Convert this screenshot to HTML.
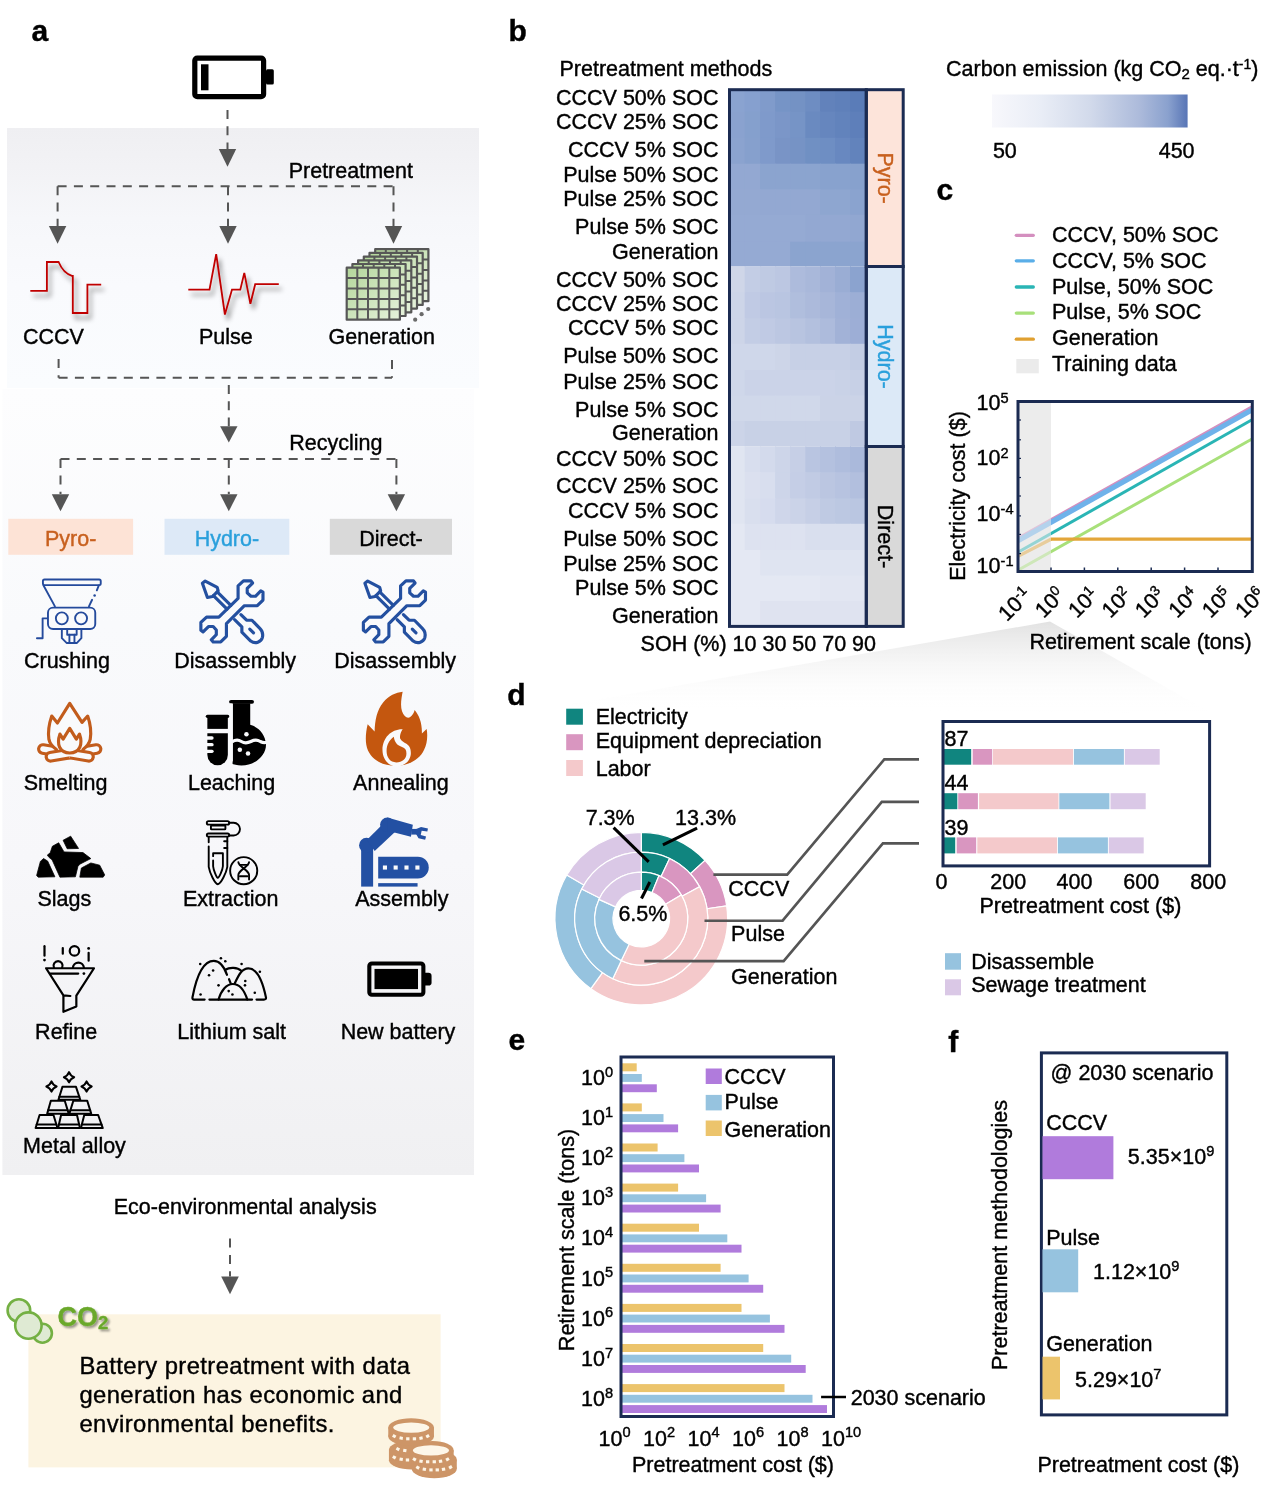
<!DOCTYPE html>
<html><head><meta charset="utf-8"><style>
html,body{margin:0;padding:0;background:#fff;}
svg{display:block;font-family:"Liberation Sans",sans-serif;will-change:transform;}
</style></head><body>
<svg width="1269" height="1487" viewBox="0 0 1269 1487">
<defs>
<linearGradient id="gpan1" x1="0" y1="0" x2="0" y2="1">
<stop offset="0" stop-color="#efeff2"/><stop offset="0.15" stop-color="#f2f2f5"/><stop offset="0.35" stop-color="#f6f7fa"/><stop offset="0.6" stop-color="#f9fafd"/><stop offset="1" stop-color="#fafcfe"/></linearGradient>
<linearGradient id="gpan2" x1="0" y1="0" x2="0" y2="1">
<stop offset="0" stop-color="#fdfdfe"/><stop offset="0.3" stop-color="#f9fafc"/><stop offset="0.6" stop-color="#f7f7fa"/><stop offset="1" stop-color="#f0f0f2"/></linearGradient>
<linearGradient id="gcbar" x1="0" y1="0" x2="1" y2="0">
<stop offset="0" stop-color="#f8f8fc"/><stop offset="0.25" stop-color="#e9edf6"/><stop offset="0.5" stop-color="#d2daeb"/><stop offset="0.75" stop-color="#adbbdb"/><stop offset="0.9" stop-color="#8aa1ce"/><stop offset="1" stop-color="#5875b6"/></linearGradient>
<linearGradient id="gzoom" x1="0" y1="0" x2="0" y2="1">
<stop offset="0" stop-color="#e2e2e2"/><stop offset="1" stop-color="#ffffff" stop-opacity="0"/></linearGradient>
<linearGradient id="ggrid" x1="0" y1="0" x2="1" y2="1">
<stop offset="0" stop-color="#b3d69a"/><stop offset="1" stop-color="#e6f2dc"/></linearGradient>
<filter id="shadow" x="-30%" y="-30%" width="160%" height="160%">
<feGaussianBlur in="SourceAlpha" stdDeviation="2.6"/><feOffset dx="2.5" dy="4.5" result="ob"/>
<feComponentTransfer><feFuncA type="linear" slope="0.5"/></feComponentTransfer>
<feMerge><feMergeNode/><feMergeNode in="SourceGraphic"/></feMerge></filter>
<filter id="tshadow" x="-20%" y="-30%" width="140%" height="160%">
<feGaussianBlur in="SourceAlpha" stdDeviation="1.3"/><feOffset dx="1.5" dy="1.5" result="ob"/>
<feComponentTransfer><feFuncA type="linear" slope="0.4"/></feComponentTransfer>
<feMerge><feMergeNode/><feMergeNode in="SourceGraphic"/></feMerge></filter>
</defs>

<rect x="7" y="128" width="472" height="260" fill="url(#gpan1)"/>
<rect x="2.4" y="389" width="471.6" height="786" fill="url(#gpan2)"/>
<text x="31.5" y="40.9" font-size="30" text-anchor="start" fill="#000" font-weight="bold"  stroke="#000" stroke-width="0.4">a</text>
<rect x="194.8" y="58.1" width="68.8" height="38.6" rx="2.5" fill="none" stroke="#000" stroke-width="5.2"/>
<rect x="266" y="69.3" width="7.8" height="15.3" rx="1.5" fill="#000"/>
<rect x="201" y="64.3" width="7.5" height="26" fill="#000"/>
<path d="M227.5,110.0 L227.5,149.0" fill="none" stroke="#555555" stroke-width="2" stroke-dasharray="9 7.3"/>
<polygon points="218.8,149.0 236.2,149.0 227.5,166.7" fill="#555555"/>
<text x="288.7" y="177.8" font-size="21.5" text-anchor="start" fill="#000" font-weight="normal"  stroke="#000" stroke-width="0.4">Pretreatment</text>
<path d="M57.6,186.2 L393.5,186.2" fill="none" stroke="#555555" stroke-width="2" stroke-dasharray="9 7.3"/>
<path d="M57.6,186.2 L57.6,226.0" fill="none" stroke="#555555" stroke-width="2" stroke-dasharray="9 7.3"/>
<path d="M393.5,186.2 L393.5,226.0" fill="none" stroke="#555555" stroke-width="2" stroke-dasharray="9 7.3"/>
<path d="M228.0,186.2 L228.0,226.0" fill="none" stroke="#555555" stroke-width="2" stroke-dasharray="9 7.3"/>
<polygon points="48.9,226.0 66.3,226.0 57.6,243.8" fill="#555555"/>
<polygon points="219.3,226.0 236.7,226.0 228.0,243.8" fill="#555555"/>
<polygon points="384.8,226.0 402.2,226.0 393.5,243.8" fill="#555555"/>
<g filter="url(#shadow)"><path d="M30.3,290.9 L46.9,290.9 L46.9,262 L58.6,262 C62,270 66,274 71.9,275.8 L72.8,275.8 L72.8,313 L87.4,313 L87.4,284.7 L101.2,284.7" fill="none" stroke="#c00000" stroke-width="1.8"/></g>
<g filter="url(#shadow)"><path d="M188.3,289.6 L209.5,289.6 L216.2,254.2 L224.9,314.5 L232,289.6 L240.3,289.6 L244.3,272.9 L250.4,303.8 L255.2,284.2 L278.8,284.2" fill="none" stroke="#c00000" stroke-width="1.8"/></g>
<g transform="translate(375.2,249.2)">
<rect x="0" y="0" width="53.2" height="52" fill="url(#ggrid)" stroke="#575757" stroke-width="2.2" stroke-linejoin="round"/>
<line x1="10.6" y1="0" x2="10.6" y2="52" stroke="#575757" stroke-width="2"/>
<line x1="0" y1="10.4" x2="53.2" y2="10.4" stroke="#575757" stroke-width="2"/>
<line x1="21.3" y1="0" x2="21.3" y2="52" stroke="#575757" stroke-width="2"/>
<line x1="0" y1="20.8" x2="53.2" y2="20.8" stroke="#575757" stroke-width="2"/>
<line x1="31.9" y1="0" x2="31.9" y2="52" stroke="#575757" stroke-width="2"/>
<line x1="0" y1="31.2" x2="53.2" y2="31.2" stroke="#575757" stroke-width="2"/>
<line x1="42.6" y1="0" x2="42.6" y2="52" stroke="#575757" stroke-width="2"/>
<line x1="0" y1="41.6" x2="53.2" y2="41.6" stroke="#575757" stroke-width="2"/>
</g>
<g transform="translate(369.5,252.9)">
<rect x="0" y="0" width="53.2" height="52" fill="url(#ggrid)" stroke="#575757" stroke-width="2.2" stroke-linejoin="round"/>
<line x1="10.6" y1="0" x2="10.6" y2="52" stroke="#575757" stroke-width="2"/>
<line x1="0" y1="10.4" x2="53.2" y2="10.4" stroke="#575757" stroke-width="2"/>
<line x1="21.3" y1="0" x2="21.3" y2="52" stroke="#575757" stroke-width="2"/>
<line x1="0" y1="20.8" x2="53.2" y2="20.8" stroke="#575757" stroke-width="2"/>
<line x1="31.9" y1="0" x2="31.9" y2="52" stroke="#575757" stroke-width="2"/>
<line x1="0" y1="31.2" x2="53.2" y2="31.2" stroke="#575757" stroke-width="2"/>
<line x1="42.6" y1="0" x2="42.6" y2="52" stroke="#575757" stroke-width="2"/>
<line x1="0" y1="41.6" x2="53.2" y2="41.6" stroke="#575757" stroke-width="2"/>
</g>
<g transform="translate(363.8,256.6)">
<rect x="0" y="0" width="53.2" height="52" fill="url(#ggrid)" stroke="#575757" stroke-width="2.2" stroke-linejoin="round"/>
<line x1="10.6" y1="0" x2="10.6" y2="52" stroke="#575757" stroke-width="2"/>
<line x1="0" y1="10.4" x2="53.2" y2="10.4" stroke="#575757" stroke-width="2"/>
<line x1="21.3" y1="0" x2="21.3" y2="52" stroke="#575757" stroke-width="2"/>
<line x1="0" y1="20.8" x2="53.2" y2="20.8" stroke="#575757" stroke-width="2"/>
<line x1="31.9" y1="0" x2="31.9" y2="52" stroke="#575757" stroke-width="2"/>
<line x1="0" y1="31.2" x2="53.2" y2="31.2" stroke="#575757" stroke-width="2"/>
<line x1="42.6" y1="0" x2="42.6" y2="52" stroke="#575757" stroke-width="2"/>
<line x1="0" y1="41.6" x2="53.2" y2="41.6" stroke="#575757" stroke-width="2"/>
</g>
<g transform="translate(358.1,260.3)">
<rect x="0" y="0" width="53.2" height="52" fill="url(#ggrid)" stroke="#575757" stroke-width="2.2" stroke-linejoin="round"/>
<line x1="10.6" y1="0" x2="10.6" y2="52" stroke="#575757" stroke-width="2"/>
<line x1="0" y1="10.4" x2="53.2" y2="10.4" stroke="#575757" stroke-width="2"/>
<line x1="21.3" y1="0" x2="21.3" y2="52" stroke="#575757" stroke-width="2"/>
<line x1="0" y1="20.8" x2="53.2" y2="20.8" stroke="#575757" stroke-width="2"/>
<line x1="31.9" y1="0" x2="31.9" y2="52" stroke="#575757" stroke-width="2"/>
<line x1="0" y1="31.2" x2="53.2" y2="31.2" stroke="#575757" stroke-width="2"/>
<line x1="42.6" y1="0" x2="42.6" y2="52" stroke="#575757" stroke-width="2"/>
<line x1="0" y1="41.6" x2="53.2" y2="41.6" stroke="#575757" stroke-width="2"/>
</g>
<g transform="translate(352.4,264.0)">
<rect x="0" y="0" width="53.2" height="52" fill="url(#ggrid)" stroke="#575757" stroke-width="2.2" stroke-linejoin="round"/>
<line x1="10.6" y1="0" x2="10.6" y2="52" stroke="#575757" stroke-width="2"/>
<line x1="0" y1="10.4" x2="53.2" y2="10.4" stroke="#575757" stroke-width="2"/>
<line x1="21.3" y1="0" x2="21.3" y2="52" stroke="#575757" stroke-width="2"/>
<line x1="0" y1="20.8" x2="53.2" y2="20.8" stroke="#575757" stroke-width="2"/>
<line x1="31.9" y1="0" x2="31.9" y2="52" stroke="#575757" stroke-width="2"/>
<line x1="0" y1="31.2" x2="53.2" y2="31.2" stroke="#575757" stroke-width="2"/>
<line x1="42.6" y1="0" x2="42.6" y2="52" stroke="#575757" stroke-width="2"/>
<line x1="0" y1="41.6" x2="53.2" y2="41.6" stroke="#575757" stroke-width="2"/>
</g>
<g transform="translate(346.7,267.7)">
<rect x="0" y="0" width="53.2" height="52" fill="url(#ggrid)" stroke="#575757" stroke-width="2.2" stroke-linejoin="round"/>
<line x1="10.6" y1="0" x2="10.6" y2="52" stroke="#575757" stroke-width="2"/>
<line x1="0" y1="10.4" x2="53.2" y2="10.4" stroke="#575757" stroke-width="2"/>
<line x1="21.3" y1="0" x2="21.3" y2="52" stroke="#575757" stroke-width="2"/>
<line x1="0" y1="20.8" x2="53.2" y2="20.8" stroke="#575757" stroke-width="2"/>
<line x1="31.9" y1="0" x2="31.9" y2="52" stroke="#575757" stroke-width="2"/>
<line x1="0" y1="31.2" x2="53.2" y2="31.2" stroke="#575757" stroke-width="2"/>
<line x1="42.6" y1="0" x2="42.6" y2="52" stroke="#575757" stroke-width="2"/>
<line x1="0" y1="41.6" x2="53.2" y2="41.6" stroke="#575757" stroke-width="2"/>
</g>
<circle cx="415.2" cy="319.7" r="2.1" fill="#6a6a6a"/>
<circle cx="421.6" cy="314.2" r="2.1" fill="#6a6a6a"/>
<circle cx="428.2" cy="309" r="2.1" fill="#6a6a6a"/>
<text x="23.0" y="343.9" font-size="21.5" text-anchor="start" fill="#000" font-weight="normal"  stroke="#000" stroke-width="0.4">CCCV</text>
<text x="198.9" y="343.8" font-size="21.5" text-anchor="start" fill="#000" font-weight="normal"  stroke="#000" stroke-width="0.4">Pulse</text>
<text x="328.5" y="343.8" font-size="21.5" text-anchor="start" fill="#000" font-weight="normal"  stroke="#000" stroke-width="0.4">Generation</text>
<path d="M58.6,377.8 L392.0,377.8" fill="none" stroke="#555555" stroke-width="2" stroke-dasharray="9 7.3"/>
<path d="M58.6,359.0 L58.6,377.8" fill="none" stroke="#555555" stroke-width="2" stroke-dasharray="9 7.3"/>
<path d="M392.0,359.9 L392.0,377.8" fill="none" stroke="#555555" stroke-width="2" stroke-dasharray="9 7.3"/>
<path d="M228.8,385.0 L228.8,426.2" fill="none" stroke="#555555" stroke-width="2" stroke-dasharray="9 7.3"/>
<polygon points="220.1,426.2 237.5,426.2 228.8,442.5" fill="#555555"/>
<text x="289.3" y="450.0" font-size="21.5" text-anchor="start" fill="#000" font-weight="normal"  stroke="#000" stroke-width="0.4">Recycling</text>
<path d="M60.5,459.1 L396.4,459.1" fill="none" stroke="#555555" stroke-width="2" stroke-dasharray="9 7.3"/>
<path d="M60.5,459.1 L60.5,494.0" fill="none" stroke="#555555" stroke-width="2" stroke-dasharray="9 7.3"/>
<path d="M396.4,459.1 L396.4,494.0" fill="none" stroke="#555555" stroke-width="2" stroke-dasharray="9 7.3"/>
<path d="M228.8,459.1 L228.8,494.0" fill="none" stroke="#555555" stroke-width="2" stroke-dasharray="9 7.3"/>
<polygon points="51.8,494.3 69.2,494.3 60.5,511.3" fill="#555555"/>
<polygon points="220.1,494.3 237.5,494.3 228.8,511.3" fill="#555555"/>
<polygon points="387.7,494.3 405.1,494.3 396.4,511.3" fill="#555555"/>
<rect x="8.3" y="518.8" width="124.8" height="36" fill="#fde3d6"/>
<rect x="164.5" y="518.8" width="124.8" height="36" fill="#dde9f7"/>
<rect x="329.8" y="518.8" width="122.2" height="36" fill="#d9d9d9"/>
<text x="70.7" y="546.0" font-size="21.5" text-anchor="middle" fill="#c8601e" font-weight="normal"  stroke="#c8601e" stroke-width="0.4">Pyro-</text>
<text x="226.9" y="546.0" font-size="21.5" text-anchor="middle" fill="#2aa0dc" font-weight="normal"  stroke="#2aa0dc" stroke-width="0.4">Hydro-</text>
<text x="390.9" y="546.0" font-size="21.5" text-anchor="middle" fill="#000" font-weight="normal"  stroke="#000" stroke-width="0.4">Direct-</text>
<text x="67.0" y="668.2" font-size="21.5" text-anchor="middle" fill="#000" font-weight="normal"  stroke="#000" stroke-width="0.4">Crushing</text>
<text x="235.2" y="668.2" font-size="21.5" text-anchor="middle" fill="#000" font-weight="normal"  stroke="#000" stroke-width="0.4">Disassembly</text>
<text x="395.2" y="668.2" font-size="21.5" text-anchor="middle" fill="#000" font-weight="normal"  stroke="#000" stroke-width="0.4">Disassembly</text>
<text x="65.6" y="790.2" font-size="21.5" text-anchor="middle" fill="#000" font-weight="normal"  stroke="#000" stroke-width="0.4">Smelting</text>
<text x="231.6" y="790.2" font-size="21.5" text-anchor="middle" fill="#000" font-weight="normal"  stroke="#000" stroke-width="0.4">Leaching</text>
<text x="400.9" y="790.2" font-size="21.5" text-anchor="middle" fill="#000" font-weight="normal"  stroke="#000" stroke-width="0.4">Annealing</text>
<text x="64.3" y="905.6" font-size="21.5" text-anchor="middle" fill="#000" font-weight="normal"  stroke="#000" stroke-width="0.4">Slags</text>
<text x="230.7" y="906.3" font-size="21.5" text-anchor="middle" fill="#000" font-weight="normal"  stroke="#000" stroke-width="0.4">Extraction</text>
<text x="401.8" y="905.6" font-size="21.5" text-anchor="middle" fill="#000" font-weight="normal"  stroke="#000" stroke-width="0.4">Assembly</text>
<text x="66.2" y="1038.9" font-size="21.5" text-anchor="middle" fill="#000" font-weight="normal"  stroke="#000" stroke-width="0.4">Refine</text>
<text x="231.7" y="1038.9" font-size="21.5" text-anchor="middle" fill="#000" font-weight="normal"  stroke="#000" stroke-width="0.4">Lithium salt</text>
<text x="398.0" y="1038.9" font-size="21.5" text-anchor="middle" fill="#000" font-weight="normal"  stroke="#000" stroke-width="0.4">New battery</text>
<text x="74.5" y="1153.1" font-size="21.5" text-anchor="middle" fill="#000" font-weight="normal"  stroke="#000" stroke-width="0.4">Metal alloy</text>
<g transform="translate(30,572) scale(0.06305)"><g fill="none" stroke="#244a9c" stroke-width="30" stroke-linecap="round" stroke-linejoin="round">
<rect x="205" y="118" width="917" height="90" rx="25"/>
<path d="M215,215 L395,545"/>
<path d="M1090,215 L1060,290"/><path d="M985,440 L935,545"/>
<rect x="285" y="565" width="750" height="340" rx="80"/>
<circle cx="505" cy="735" r="95"/><circle cx="810" cy="735" r="95"/>
<path d="M270,735 L200,735 L200,1050 L110,1050"/>
<path d="M505,905 L505,1050 L580,1125 L745,1125 L815,1050 L815,905"/>
<path d="M590,905 L590,995 L740,995 L740,905"/>
<path d="M625,995 L625,1120"/><path d="M705,995 L705,1120"/>
</g><circle cx="1025" cy="372" r="20" fill="#244a9c"/></g>
<g transform="translate(193,572) scale(0.06305)"><g fill="none" stroke="#2450a0" stroke-width="50" stroke-linejoin="round" stroke-linecap="round">
<path d="M410,715 L715,420 L715,220 L800,140 L920,140 L945,175 L860,260 L860,330 L920,385 L990,385 L1075,300 L1110,320 L1110,445 L1020,535 L815,535 L530,820 L530,1020 L440,1110 L320,1110 L290,1075 L370,995 L370,920 L320,865 L245,865 L160,950 L125,925 L125,800 L215,715 Z"/>
<path d="M149,179 L194,144 L384,244 L399,299 L309,389 L229,404 Z"/>
<path d="M384,314 L600,530"/><path d="M324,374 L540,590"/>
<path d="M660,755 L775,870 L775,955 L915,1095 C990,1150 1080,1110 1100,1040 C1115,980 1095,930 1060,895 L935,765 L850,765 L760,675"/>
<path d="M900,905 L960,965"/>
</g></g>
<g transform="translate(355.5,572) scale(0.06305)"><g fill="none" stroke="#2450a0" stroke-width="50" stroke-linejoin="round" stroke-linecap="round">
<path d="M410,715 L715,420 L715,220 L800,140 L920,140 L945,175 L860,260 L860,330 L920,385 L990,385 L1075,300 L1110,320 L1110,445 L1020,535 L815,535 L530,820 L530,1020 L440,1110 L320,1110 L290,1075 L370,995 L370,920 L320,865 L245,865 L160,950 L125,925 L125,800 L215,715 Z"/>
<path d="M149,179 L194,144 L384,244 L399,299 L309,389 L229,404 Z"/>
<path d="M384,314 L600,530"/><path d="M324,374 L540,590"/>
<path d="M660,755 L775,870 L775,955 L915,1095 C990,1150 1080,1110 1100,1040 C1115,980 1095,930 1060,895 L935,765 L850,765 L760,675"/>
<path d="M900,905 L960,965"/>
</g></g>
<g transform="translate(30,694) scale(0.06305)"><clipPath id="smL"><rect x="0" y="0" width="630" height="1300"/></clipPath><clipPath id="smR"><rect x="630" y="0" width="700" height="1300"/></clipPath>
<g fill="#f9fafc" stroke="#c25c1c" stroke-width="50" stroke-linejoin="round">
<g clip-path="url(#smL)"><rect x="132" y="866" width="876" height="136" rx="68" transform="rotate(9.56 570 934)"/><rect x="252" y="866" width="876" height="136" rx="68" transform="rotate(170.44 690 934)"/></g><g clip-path="url(#smR)"><rect x="252" y="866" width="876" height="136" rx="68" transform="rotate(170.44 690 934)"/><rect x="132" y="866" width="876" height="136" rx="68" transform="rotate(9.56 570 934)"/></g></g>
<g fill="#f9fafc" stroke="#c25c1c" stroke-width="50" stroke-linejoin="round" stroke-linecap="round">
<path d="M420,880 C360,840 315,790 300,720 C285,620 300,480 345,350 L435,460 L630,150 L825,450 L915,350 C960,480 975,600 955,720 C940,790 895,840 840,880" />
<path d="M630,545 L735,715 L785,635 C815,720 815,790 790,845 C760,905 700,935 630,935 C560,935 500,905 470,845 C445,790 445,720 475,635 L525,715 Z"/>
</g></g>
<g transform="translate(196,692) scale(0.06305)"><g fill="#000">
<rect x="155" y="360" width="375" height="52" rx="26"/>
<rect x="180" y="400" width="325" height="185"/>
<path d="M180,655 L505,655 L505,1000 A162,162 0 0 1 180,1000 Z"/>
<rect x="525" y="125" width="395" height="62" rx="31"/>
<path d="M585,180 L860,180 L860,520 C1000,560 1100,680 1110,830 C1115,1000 950,1165 720,1165 C650,1165 600,1150 555,1135 L585,1090 Z"/>
</g>
<g fill="#f9fafc">
<rect x="150" y="703" width="130" height="55" rx="27"/><rect x="150" y="810" width="130" height="52" rx="26"/><rect x="150" y="915" width="130" height="52" rx="26"/>
<circle cx="800" cy="670" r="36"/><circle cx="695" cy="915" r="36"/><circle cx="825" cy="975" r="36"/>
</g>
<path d="M570,790 C620,760 680,760 720,785 C760,810 820,810 870,785 C920,760 980,760 1020,785 C1060,805 1100,805 1130,795" fill="none" stroke="#f9fafc" stroke-width="50"/>
<rect x="530" y="180" width="50" height="1000" fill="#f9fafc"/></g>
<g transform="translate(356,688) scale(0.06305)"><path d="M740,60 C720,160 700,280 730,370 C760,460 820,490 860,460 C900,430 920,390 930,350 C1000,430 1050,560 1045,720 L1120,650 C1140,750 1130,880 1080,980 C1010,1130 850,1230 630,1235 C420,1235 260,1140 190,990 C140,880 150,720 185,575 L295,690 C300,520 330,350 430,230 C520,120 630,75 740,60 Z" fill="#c4570f"/>
<path d="M740,655 C560,650 420,790 420,985 C420,1140 530,1245 640,1245 C770,1245 870,1150 870,1030 C870,950 840,910 800,885 C760,860 720,840 700,800 C690,760 710,700 740,655 Z" fill="#f9fafc"/>
<path d="M600,775 C610,860 660,920 730,935 C780,950 800,980 800,1040 C800,1130 730,1180 640,1180 C540,1180 485,1100 485,1000 C485,900 530,830 600,775 Z" fill="#c4570f"/></g>
<g transform="translate(30,810) scale(0.06305)"><g fill="#000" stroke="#000" stroke-width="12" stroke-linejoin="round">
<path d="M105,1040 L165,815 L215,770 L280,810 L395,1060 L130,1065 Z"/>
<path d="M275,715 L320,680 L355,575 L455,520 L540,665 L840,675 L965,770 L790,860 L760,895 L720,1060 L475,1065 L350,790 L300,750 Z"/>
<path d="M525,480 L645,415 L770,610 L590,615 Z"/>
<path d="M790,1065 L815,920 L965,840 L1105,875 L1185,1030 L1160,1065 Z"/>
</g></g>
<g transform="translate(192,812) scale(0.06305)"><g fill="none" stroke="#000" stroke-width="30" stroke-linecap="round" stroke-linejoin="round">
<rect x="235" y="145" width="355" height="55" rx="27"/>
<rect x="300" y="215" width="230" height="60" rx="10"/>
<rect x="235" y="340" width="355" height="50" rx="25"/>
<path d="M590,170 L660,170 A100,100 0 0 1 660,372 L590,372"/>
<path d="M265,405 L265,480"/><path d="M265,545 L265,870 C280,960 360,1140 410,1145 C460,1140 545,960 560,870 L560,405"/>
<path d="M510,465 L560,465"/><path d="M510,570 L560,570"/>
<path d="M335,700 L335,655 L490,655 L490,860 C485,920 430,1040 410,1045 C390,1040 340,920 335,860 L335,770"/>
<circle cx="820" cy="930" r="215"/>
<path d="M735,795 C735,870 905,920 905,1000 L905,1070"/><path d="M905,795 C905,870 735,920 735,1000 L735,1070"/>
<path d="M760,838 L880,838"/><path d="M760,1020 L880,1020"/>
</g></g>
<g transform="translate(352,810) scale(0.06305)"><g fill="#2350a3">
<rect x="145" y="600" width="190" height="615"/>
<circle cx="230" cy="560" r="118"/>
<path d="M235,475 L470,240 L690,340 L360,650 Z"/>
<circle cx="560" cy="235" r="115"/>
<path d="M560,120 L965,235 L935,425 L640,350 L560,350 Z"/>
<path d="M940,300 L1040,300 L1040,390 L940,390 Z"/>
<path d="M1000,310 L1095,270 L1205,295 L1195,340 L1105,330 L1090,395 L1175,420 L1160,470 L1055,450 L1020,390 Z"/>
<path d="M415,740 L1045,740 A172,172 0 0 1 1045,1085 L415,1085 Z"/>
<rect x="415" y="1160" width="625" height="55"/>
</g>
<g fill="#f9fafc"><rect x="490" y="880" width="65" height="65"/><rect x="660" y="880" width="65" height="65"/><rect x="832" y="880" width="65" height="65"/><rect x="1005" y="880" width="65" height="65"/></g></g>
<g transform="translate(30,938) scale(0.06305)"><g fill="none" stroke="#000" stroke-width="35" stroke-linecap="round" stroke-linejoin="round">
<path d="M380,470 A72,72 0 1 1 510,470"/>
<path d="M680,470 A88,88 0 0 1 855,470"/>
<path d="M530,910 L255,480 L1015,480 L735,915 L735,1085 L530,1170 L530,910 L640,920"/>
<path d="M320,565 L765,565"/>
<circle cx="705" cy="205" r="75"/>
<path d="M230,130 L230,280"/><path d="M520,160 L520,250"/><path d="M930,235 L930,360"/>
</g>
<g fill="#000"><circle cx="855" cy="565" r="22"/><circle cx="230" cy="350" r="22"/><circle cx="930" cy="165" r="22"/></g></g>
<g transform="translate(186,944) scale(0.06777)"><g fill="none" stroke="#000" stroke-width="32" stroke-linecap="round" stroke-linejoin="round">
<path d="M275,820 L120,820 Q90,820 95,790 C150,500 250,250 410,250 C500,250 560,330 605,455"/>
<path d="M635,520 L660,580"/>
<path d="M580,380 C640,340 760,340 815,395"/>
<path d="M720,580 C780,450 830,360 920,360 C1040,360 1120,500 1180,790 Q1185,820 1150,820 L1040,820"/>
<path d="M480,820 C520,680 600,590 690,590 C780,590 860,680 905,820"/>
<path d="M345,820 L975,820"/>
</g><g fill="#000"><circle cx="210" cy="295" r="19"/><circle cx="515" cy="210" r="19"/><circle cx="580" cy="255" r="19"/><circle cx="820" cy="295" r="19"/><circle cx="1090" cy="410" r="19"/><circle cx="400" cy="390" r="19"/><circle cx="340" cy="460" r="19"/><circle cx="480" cy="610" r="19"/><circle cx="875" cy="545" r="19"/><circle cx="870" cy="610" r="19"/><circle cx="1015" cy="720" r="19"/><circle cx="215" cy="745" r="19"/><circle cx="630" cy="695" r="19"/><circle cx="685" cy="745" r="19"/></g></g>
<g transform="translate(360,950) scale(0.06305)"><rect x="148" y="213" width="857" height="497" rx="40" fill="none" stroke="#000" stroke-width="65"/>
<rect x="230" y="300" width="690" height="320" fill="#000"/>
<path d="M1000,360 L1085,360 Q1135,360 1135,410 L1135,515 Q1135,565 1085,565 L1000,565 Z" fill="#000"/></g>
<g transform="translate(28,1064) scale(0.06619)"><g fill="none" stroke="#000" stroke-width="30" stroke-linecap="round" stroke-linejoin="round"><path d="M520,345 L725,345 L790,540 L460,540 Z"/><path d="M474,495 L775,495"/><path d="M345,555 L555,555 L615,750 L290,750 Z"/><path d="M304,700 L600,700"/><path d="M685,555 L895,555 L955,750 L625,750 Z"/><path d="M640,700 L940,700"/><path d="M175,770 L385,770 L445,968 L115,968 Z"/><path d="M131,915 L429,915"/><path d="M500,770 L740,770 L785,968 L455,968 Z"/><path d="M467,915 L773,915"/><path d="M850,770 L1060,770 L1130,968 L800,968 Z"/><path d="M813,915 L1111,915"/>
<path d="M620,122 Q641.84,178.16 698,200 Q641.84,221.84 620,278 Q598.16,221.84 542,200 Q598.16,178.16 620,122 Z"/><path d="M355,262 Q376.84000000000003,318.15999999999997 433,340 Q376.84000000000003,361.84000000000003 355,418 Q333.15999999999997,361.84000000000003 277,340 Q333.15999999999997,318.15999999999997 355,262 Z"/><path d="M885,262 Q906.84,318.15999999999997 963,340 Q906.84,361.84000000000003 885,418 Q863.16,361.84000000000003 807,340 Q863.16,318.15999999999997 885,262 Z"/></g></g>
<text x="245.2" y="1214.0" font-size="21.5" text-anchor="middle" fill="#000" font-weight="normal"  stroke="#000" stroke-width="0.4">Eco-environmental analysis</text>
<path d="M230.0,1238.6 L230.0,1276.4" fill="none" stroke="#555555" stroke-width="2" stroke-dasharray="9 7.3"/>
<polygon points="221.2,1276.4 238.8,1276.4 230.0,1294.2" fill="#555555"/>
<rect x="28.4" y="1314.3" width="412.2" height="153.1" fill="#fcf4e1"/>
<circle cx="18.9" cy="1310.5" r="11.3" fill="#dfead3" stroke="#74b043" stroke-width="2.6"/>
<circle cx="42.4" cy="1333.2" r="9.5" fill="#dfead3" stroke="#74b043" stroke-width="2.6"/>
<circle cx="28.4" cy="1325.6" r="13.2" fill="#dfead3" stroke="#74b043" stroke-width="2.6"/>
<text x="57.5" y="1326.4" font-size="27" font-weight="bold" fill="#6aa82c" filter="url(#tshadow)" stroke="#6aa82c" stroke-width="0.4">CO<tspan font-size="18.5" dy="2.4">2</tspan></text>
<text x="79.4" y="1374.1" font-size="23.8" text-anchor="start" fill="#000" font-weight="normal" letter-spacing="0.41" stroke="#000" stroke-width="0.4">Battery pretreatment with data</text>
<text x="79.4" y="1402.5" font-size="23.8" text-anchor="start" fill="#000" font-weight="normal" letter-spacing="0.41" stroke="#000" stroke-width="0.4">generation has economic and</text>
<text x="79.4" y="1432.3" font-size="23.8" text-anchor="start" fill="#000" font-weight="normal" letter-spacing="0.41" stroke="#000" stroke-width="0.4">environmental benefits.</text>
<g transform="translate(380,1410) scale(0.06619)"><g fill="#cd9567"><ellipse cx="480" cy="760" rx="345" ry="140"/><rect x="135" y="600" width="690" height="160"/><ellipse cx="480" cy="600" rx="345" ry="140"/><ellipse cx="470" cy="400" rx="345" ry="140"/><rect x="125" y="265" width="690" height="135"/><ellipse cx="470" cy="265" rx="345" ry="140"/></g>
<g fill="#fdf6e8"><rect x="245" y="567" width="50" height="46" transform="rotate(30 270 590)"/><rect x="350" y="589" width="50" height="46" transform="rotate(10 375 612)"/><rect x="190" y="692" width="50" height="46" transform="rotate(30 215 715)"/><rect x="295" y="722" width="50" height="46" transform="rotate(10 320 745)"/><rect x="390" y="732" width="50" height="46" transform="rotate(0 415 755)"/></g>
<g fill="#fdf6e8"><ellipse cx="472" cy="265" rx="272" ry="78"/><rect x="190" y="372" width="50" height="46" transform="rotate(30 215 395)"/><rect x="295" y="402" width="50" height="46" transform="rotate(10 320 425)"/><rect x="395" y="412" width="50" height="46" transform="rotate(0 420 435)"/><rect x="495" y="412" width="50" height="46" transform="rotate(0 520 435)"/><rect x="595" y="402" width="50" height="46" transform="rotate(-10 620 425)"/><rect x="695" y="372" width="50" height="46" transform="rotate(-30 720 395)"/></g>
<g fill="#cd9567"><ellipse cx="820" cy="890" rx="340" ry="140"/><rect x="480" y="750" width="680" height="140"/><ellipse cx="820" cy="750" rx="340" ry="140"/><ellipse cx="795" cy="750" rx="318" ry="140"/><rect x="477" y="610" width="636" height="140"/><ellipse cx="795" cy="610" rx="318" ry="140"/></g>
<g fill="#fdf6e8"><ellipse cx="770" cy="610" rx="272" ry="78"/><rect x="495" y="722" width="50" height="46" transform="rotate(30 520 745)"/><rect x="595" y="752" width="50" height="46" transform="rotate(10 620 775)"/><rect x="695" y="759" width="50" height="46" transform="rotate(0 720 782)"/><rect x="795" y="759" width="50" height="46" transform="rotate(0 820 782)"/><rect x="890" y="752" width="50" height="46" transform="rotate(-10 915 775)"/><rect x="995" y="722" width="50" height="46" transform="rotate(-30 1020 745)"/><rect x="545" y="847" width="50" height="46" transform="rotate(30 570 870)"/><rect x="645" y="872" width="50" height="46" transform="rotate(10 670 895)"/><rect x="745" y="882" width="50" height="46" transform="rotate(0 770 905)"/><rect x="840" y="882" width="50" height="46" transform="rotate(0 865 905)"/><rect x="935" y="872" width="50" height="46" transform="rotate(-10 960 895)"/><rect x="1040" y="842" width="50" height="46" transform="rotate(-30 1065 865)"/></g></g>
<polygon points="1050,621.6 1213,714 560,706" fill="url(#gzoom)"/>
<text x="508.6" y="40.9" font-size="30" text-anchor="start" fill="#000" font-weight="bold"  stroke="#000" stroke-width="0.4">b</text>
<text x="559.5" y="76.2" font-size="21.5" text-anchor="start" fill="#000" font-weight="normal"  stroke="#000" stroke-width="0.4">Pretreatment methods</text>
<text x="718.5" y="104.6" font-size="21.5" text-anchor="end" fill="#000" font-weight="normal"  stroke="#000" stroke-width="0.4">CCCV 50% SOC</text>
<text x="718.5" y="129.1" font-size="21.5" text-anchor="end" fill="#000" font-weight="normal"  stroke="#000" stroke-width="0.4">CCCV 25% SOC</text>
<text x="718.5" y="157.4" font-size="21.5" text-anchor="end" fill="#000" font-weight="normal"  stroke="#000" stroke-width="0.4">CCCV 5% SOC</text>
<text x="718.5" y="181.8" font-size="21.5" text-anchor="end" fill="#000" font-weight="normal"  stroke="#000" stroke-width="0.4">Pulse 50% SOC</text>
<text x="718.5" y="206.2" font-size="21.5" text-anchor="end" fill="#000" font-weight="normal"  stroke="#000" stroke-width="0.4">Pulse 25% SOC</text>
<text x="718.5" y="233.9" font-size="21.5" text-anchor="end" fill="#000" font-weight="normal"  stroke="#000" stroke-width="0.4">Pulse 5% SOC</text>
<text x="718.5" y="258.6" font-size="21.5" text-anchor="end" fill="#000" font-weight="normal"  stroke="#000" stroke-width="0.4">Generation</text>
<text x="718.5" y="287.0" font-size="21.5" text-anchor="end" fill="#000" font-weight="normal"  stroke="#000" stroke-width="0.4">CCCV 50% SOC</text>
<text x="718.5" y="311.4" font-size="21.5" text-anchor="end" fill="#000" font-weight="normal"  stroke="#000" stroke-width="0.4">CCCV 25% SOC</text>
<text x="718.5" y="334.9" font-size="21.5" text-anchor="end" fill="#000" font-weight="normal"  stroke="#000" stroke-width="0.4">CCCV 5% SOC</text>
<text x="718.5" y="363.3" font-size="21.5" text-anchor="end" fill="#000" font-weight="normal"  stroke="#000" stroke-width="0.4">Pulse 50% SOC</text>
<text x="718.5" y="388.5" font-size="21.5" text-anchor="end" fill="#000" font-weight="normal"  stroke="#000" stroke-width="0.4">Pulse 25% SOC</text>
<text x="718.5" y="416.5" font-size="21.5" text-anchor="end" fill="#000" font-weight="normal"  stroke="#000" stroke-width="0.4">Pulse 5% SOC</text>
<text x="718.5" y="440.4" font-size="21.5" text-anchor="end" fill="#000" font-weight="normal"  stroke="#000" stroke-width="0.4">Generation</text>
<text x="718.5" y="465.5" font-size="21.5" text-anchor="end" fill="#000" font-weight="normal"  stroke="#000" stroke-width="0.4">CCCV 50% SOC</text>
<text x="718.5" y="493.2" font-size="21.5" text-anchor="end" fill="#000" font-weight="normal"  stroke="#000" stroke-width="0.4">CCCV 25% SOC</text>
<text x="718.5" y="517.9" font-size="21.5" text-anchor="end" fill="#000" font-weight="normal"  stroke="#000" stroke-width="0.4">CCCV 5% SOC</text>
<text x="718.5" y="546.3" font-size="21.5" text-anchor="end" fill="#000" font-weight="normal"  stroke="#000" stroke-width="0.4">Pulse 50% SOC</text>
<text x="718.5" y="570.6" font-size="21.5" text-anchor="end" fill="#000" font-weight="normal"  stroke="#000" stroke-width="0.4">Pulse 25% SOC</text>
<text x="718.5" y="594.5" font-size="21.5" text-anchor="end" fill="#000" font-weight="normal"  stroke="#000" stroke-width="0.4">Pulse 5% SOC</text>
<text x="718.5" y="623.0" font-size="21.5" text-anchor="end" fill="#000" font-weight="normal"  stroke="#000" stroke-width="0.4">Generation</text>
<rect x="729.50" y="89.70" width="16.20" height="22.90" fill="#8aa3d0"/>
<rect x="744.70" y="89.70" width="16.40" height="22.90" fill="#86a0cf"/>
<rect x="760.10" y="89.70" width="16.00" height="22.90" fill="#809bcb"/>
<rect x="775.10" y="89.70" width="16.00" height="22.90" fill="#7694c6"/>
<rect x="790.10" y="89.70" width="16.20" height="22.90" fill="#7492c4"/>
<rect x="805.30" y="89.70" width="15.70" height="22.90" fill="#6e8dc2"/>
<rect x="820.00" y="89.70" width="16.00" height="22.90" fill="#6282bb"/>
<rect x="835.00" y="89.70" width="16.00" height="22.90" fill="#5f80ba"/>
<rect x="850.00" y="89.70" width="16.30" height="22.90" fill="#5a7cb8"/>
<rect x="729.50" y="111.60" width="16.20" height="27.20" fill="#8aa2cf"/>
<rect x="744.70" y="111.60" width="16.40" height="27.20" fill="#85a0cd"/>
<rect x="760.10" y="111.60" width="16.00" height="27.20" fill="#7f9acb"/>
<rect x="775.10" y="111.60" width="16.00" height="27.20" fill="#7b96c8"/>
<rect x="790.10" y="111.60" width="16.20" height="27.20" fill="#7694c6"/>
<rect x="805.30" y="111.60" width="15.70" height="27.20" fill="#6a8ac0"/>
<rect x="820.00" y="111.60" width="16.00" height="27.20" fill="#6686be"/>
<rect x="835.00" y="111.60" width="16.00" height="27.20" fill="#6283bc"/>
<rect x="850.00" y="111.60" width="16.30" height="27.20" fill="#5e7fba"/>
<rect x="729.50" y="137.80" width="16.20" height="26.90" fill="#8ba3cf"/>
<rect x="744.70" y="137.80" width="16.40" height="26.90" fill="#86a0cd"/>
<rect x="760.10" y="137.80" width="16.00" height="26.90" fill="#7f9acb"/>
<rect x="775.10" y="137.80" width="16.00" height="26.90" fill="#7994c6"/>
<rect x="790.10" y="137.80" width="16.20" height="26.90" fill="#7693c5"/>
<rect x="805.30" y="137.80" width="15.70" height="26.90" fill="#7090c3"/>
<rect x="820.00" y="137.80" width="16.00" height="26.90" fill="#6e8ec3"/>
<rect x="835.00" y="137.80" width="16.00" height="26.90" fill="#6888c0"/>
<rect x="850.00" y="137.80" width="16.30" height="26.90" fill="#6283bc"/>
<rect x="729.50" y="163.70" width="16.20" height="26.60" fill="#93a8d2"/>
<rect x="744.70" y="163.70" width="16.40" height="26.60" fill="#93a8d2"/>
<rect x="760.10" y="163.70" width="16.00" height="26.60" fill="#8ba4cf"/>
<rect x="775.10" y="163.70" width="16.00" height="26.60" fill="#8ba4cf"/>
<rect x="790.10" y="163.70" width="16.20" height="26.60" fill="#8ba4cf"/>
<rect x="805.30" y="163.70" width="15.70" height="26.60" fill="#8ba4cf"/>
<rect x="820.00" y="163.70" width="16.00" height="26.60" fill="#88a2ce"/>
<rect x="835.00" y="163.70" width="16.00" height="26.60" fill="#88a2ce"/>
<rect x="850.00" y="163.70" width="16.30" height="26.60" fill="#87a1cd"/>
<rect x="729.50" y="189.30" width="16.20" height="26.40" fill="#94a9d2"/>
<rect x="744.70" y="189.30" width="16.40" height="26.40" fill="#94a9d2"/>
<rect x="760.10" y="189.30" width="16.00" height="26.40" fill="#93a8d2"/>
<rect x="775.10" y="189.30" width="16.00" height="26.40" fill="#93a8d2"/>
<rect x="790.10" y="189.30" width="16.20" height="26.40" fill="#93a8d2"/>
<rect x="805.30" y="189.30" width="15.70" height="26.40" fill="#93a8d2"/>
<rect x="820.00" y="189.30" width="16.00" height="26.40" fill="#8ea6d0"/>
<rect x="835.00" y="189.30" width="16.00" height="26.40" fill="#8ea6d0"/>
<rect x="850.00" y="189.30" width="16.30" height="26.40" fill="#8aa3cf"/>
<rect x="729.50" y="214.70" width="16.20" height="28.00" fill="#95aad3"/>
<rect x="744.70" y="214.70" width="16.40" height="28.00" fill="#95aad3"/>
<rect x="760.10" y="214.70" width="16.00" height="28.00" fill="#95aad3"/>
<rect x="775.10" y="214.70" width="16.00" height="28.00" fill="#95aad3"/>
<rect x="790.10" y="214.70" width="16.20" height="28.00" fill="#95aad3"/>
<rect x="805.30" y="214.70" width="15.70" height="28.00" fill="#93a8d2"/>
<rect x="820.00" y="214.70" width="16.00" height="28.00" fill="#93a8d2"/>
<rect x="835.00" y="214.70" width="16.00" height="28.00" fill="#93a8d2"/>
<rect x="850.00" y="214.70" width="16.30" height="28.00" fill="#91a7d1"/>
<rect x="729.50" y="241.70" width="16.20" height="24.80" fill="#95aad3"/>
<rect x="744.70" y="241.70" width="16.40" height="24.80" fill="#95aad3"/>
<rect x="760.10" y="241.70" width="16.00" height="24.80" fill="#95aad3"/>
<rect x="775.10" y="241.70" width="16.00" height="24.80" fill="#95aad3"/>
<rect x="790.10" y="241.70" width="16.20" height="24.80" fill="#8ba4cf"/>
<rect x="805.30" y="241.70" width="15.70" height="24.80" fill="#8ba4cf"/>
<rect x="820.00" y="241.70" width="16.00" height="24.80" fill="#8ba4cf"/>
<rect x="835.00" y="241.70" width="16.00" height="24.80" fill="#8ba4cf"/>
<rect x="850.00" y="241.70" width="16.30" height="24.80" fill="#8ba4cf"/>
<rect x="729.50" y="266.50" width="16.20" height="26.70" fill="#cfd6e8"/>
<rect x="744.70" y="266.50" width="16.40" height="26.70" fill="#c3cde5"/>
<rect x="760.10" y="266.50" width="16.00" height="26.70" fill="#bfcae3"/>
<rect x="775.10" y="266.50" width="16.00" height="26.70" fill="#bcc7e2"/>
<rect x="790.10" y="266.50" width="16.20" height="26.70" fill="#adbbdc"/>
<rect x="805.30" y="266.50" width="15.70" height="26.70" fill="#a9b8da"/>
<rect x="820.00" y="266.50" width="16.00" height="26.70" fill="#a2b2d7"/>
<rect x="835.00" y="266.50" width="16.00" height="26.70" fill="#9aadd4"/>
<rect x="850.00" y="266.50" width="16.30" height="26.70" fill="#8ba3cf"/>
<rect x="729.50" y="292.20" width="16.20" height="27.20" fill="#cdd5e8"/>
<rect x="744.70" y="292.20" width="16.40" height="27.20" fill="#c0cae4"/>
<rect x="760.10" y="292.20" width="16.00" height="27.20" fill="#bbc6e2"/>
<rect x="775.10" y="292.20" width="16.00" height="27.20" fill="#b9c5e1"/>
<rect x="790.10" y="292.20" width="16.20" height="27.20" fill="#b0bedd"/>
<rect x="805.30" y="292.20" width="15.70" height="27.20" fill="#acbadb"/>
<rect x="820.00" y="292.20" width="16.00" height="27.20" fill="#a7b6d9"/>
<rect x="835.00" y="292.20" width="16.00" height="27.20" fill="#a0b1d7"/>
<rect x="850.00" y="292.20" width="16.30" height="27.20" fill="#9caed5"/>
<rect x="729.50" y="318.40" width="16.20" height="26.40" fill="#cdd5e8"/>
<rect x="744.70" y="318.40" width="16.40" height="26.40" fill="#c3cde5"/>
<rect x="760.10" y="318.40" width="16.00" height="26.40" fill="#c0cae4"/>
<rect x="775.10" y="318.40" width="16.00" height="26.40" fill="#bcc7e2"/>
<rect x="790.10" y="318.40" width="16.20" height="26.40" fill="#b8c4e0"/>
<rect x="805.30" y="318.40" width="15.70" height="26.40" fill="#b3c0de"/>
<rect x="820.00" y="318.40" width="16.00" height="26.40" fill="#adbbdc"/>
<rect x="835.00" y="318.40" width="16.00" height="26.40" fill="#a2b2d7"/>
<rect x="850.00" y="318.40" width="16.30" height="26.40" fill="#9daed6"/>
<rect x="729.50" y="343.80" width="16.20" height="27.20" fill="#cfd7ea"/>
<rect x="744.70" y="343.80" width="16.40" height="27.20" fill="#cfd7ea"/>
<rect x="760.10" y="343.80" width="16.00" height="27.20" fill="#cfd7ea"/>
<rect x="775.10" y="343.80" width="16.00" height="27.20" fill="#cdd5e8"/>
<rect x="790.10" y="343.80" width="16.20" height="27.20" fill="#c7d0e6"/>
<rect x="805.30" y="343.80" width="15.70" height="27.20" fill="#c7d0e6"/>
<rect x="820.00" y="343.80" width="16.00" height="27.20" fill="#c7d0e6"/>
<rect x="835.00" y="343.80" width="16.00" height="27.20" fill="#c7d0e6"/>
<rect x="850.00" y="343.80" width="16.30" height="27.20" fill="#c3cde4"/>
<rect x="729.50" y="370.00" width="16.20" height="26.50" fill="#cfd7ea"/>
<rect x="744.70" y="370.00" width="16.40" height="26.50" fill="#cbd3e8"/>
<rect x="760.10" y="370.00" width="16.00" height="26.50" fill="#cbd3e8"/>
<rect x="775.10" y="370.00" width="16.00" height="26.50" fill="#cbd3e8"/>
<rect x="790.10" y="370.00" width="16.20" height="26.50" fill="#cbd3e8"/>
<rect x="805.30" y="370.00" width="15.70" height="26.50" fill="#cbd3e8"/>
<rect x="820.00" y="370.00" width="16.00" height="26.50" fill="#cbd3e8"/>
<rect x="835.00" y="370.00" width="16.00" height="26.50" fill="#c9d2e7"/>
<rect x="850.00" y="370.00" width="16.30" height="26.50" fill="#c7d0e6"/>
<rect x="729.50" y="395.50" width="16.20" height="26.50" fill="#d0d8ea"/>
<rect x="744.70" y="395.50" width="16.40" height="26.50" fill="#d0d8ea"/>
<rect x="760.10" y="395.50" width="16.00" height="26.50" fill="#d0d8ea"/>
<rect x="775.10" y="395.50" width="16.00" height="26.50" fill="#d0d8ea"/>
<rect x="790.10" y="395.50" width="16.20" height="26.50" fill="#d0d8ea"/>
<rect x="805.30" y="395.50" width="15.70" height="26.50" fill="#d0d8ea"/>
<rect x="820.00" y="395.50" width="16.00" height="26.50" fill="#cbd3e7"/>
<rect x="835.00" y="395.50" width="16.00" height="26.50" fill="#cbd3e7"/>
<rect x="850.00" y="395.50" width="16.30" height="26.50" fill="#cbd3e7"/>
<rect x="729.50" y="421.00" width="16.20" height="25.50" fill="#ccd4e8"/>
<rect x="744.70" y="421.00" width="16.40" height="25.50" fill="#c8d1e6"/>
<rect x="760.10" y="421.00" width="16.00" height="25.50" fill="#c8d1e6"/>
<rect x="775.10" y="421.00" width="16.00" height="25.50" fill="#c8d1e6"/>
<rect x="790.10" y="421.00" width="16.20" height="25.50" fill="#c8d1e6"/>
<rect x="805.30" y="421.00" width="15.70" height="25.50" fill="#c8d1e6"/>
<rect x="820.00" y="421.00" width="16.00" height="25.50" fill="#c8d1e6"/>
<rect x="835.00" y="421.00" width="16.00" height="25.50" fill="#c8d1e6"/>
<rect x="850.00" y="421.00" width="16.30" height="25.50" fill="#bfc9e2"/>
<rect x="729.50" y="446.50" width="16.20" height="26.70" fill="#e0e5f1"/>
<rect x="744.70" y="446.50" width="16.40" height="26.70" fill="#d8deee"/>
<rect x="760.10" y="446.50" width="16.00" height="26.70" fill="#d3daec"/>
<rect x="775.10" y="446.50" width="16.00" height="26.70" fill="#cdd5e9"/>
<rect x="790.10" y="446.50" width="16.20" height="26.70" fill="#c6cfe6"/>
<rect x="805.30" y="446.50" width="15.70" height="26.70" fill="#b9c5e1"/>
<rect x="820.00" y="446.50" width="16.00" height="26.70" fill="#b4c1df"/>
<rect x="835.00" y="446.50" width="16.00" height="26.70" fill="#afbddd"/>
<rect x="850.00" y="446.50" width="16.30" height="26.70" fill="#aab9db"/>
<rect x="729.50" y="472.20" width="16.20" height="27.20" fill="#e0e5f1"/>
<rect x="744.70" y="472.20" width="16.40" height="27.20" fill="#dbe0ef"/>
<rect x="760.10" y="472.20" width="16.00" height="27.20" fill="#d8deee"/>
<rect x="775.10" y="472.20" width="16.00" height="27.20" fill="#cdd5e9"/>
<rect x="790.10" y="472.20" width="16.20" height="27.20" fill="#c5cee6"/>
<rect x="805.30" y="472.20" width="15.70" height="27.20" fill="#c1cbe4"/>
<rect x="820.00" y="472.20" width="16.00" height="27.20" fill="#bbc6e1"/>
<rect x="835.00" y="472.20" width="16.00" height="27.20" fill="#b7c3e0"/>
<rect x="850.00" y="472.20" width="16.30" height="27.20" fill="#b2bfde"/>
<rect x="729.50" y="498.40" width="16.20" height="26.40" fill="#e0e5f1"/>
<rect x="744.70" y="498.40" width="16.40" height="26.40" fill="#d9dfee"/>
<rect x="760.10" y="498.40" width="16.00" height="26.40" fill="#d6dcee"/>
<rect x="775.10" y="498.40" width="16.00" height="26.40" fill="#cfd6ea"/>
<rect x="790.10" y="498.40" width="16.20" height="26.40" fill="#cbd3e8"/>
<rect x="805.30" y="498.40" width="15.70" height="26.40" fill="#c6cfe6"/>
<rect x="820.00" y="498.40" width="16.00" height="26.40" fill="#bfcae3"/>
<rect x="835.00" y="498.40" width="16.00" height="26.40" fill="#bcc8e2"/>
<rect x="850.00" y="498.40" width="16.30" height="26.40" fill="#bac6e1"/>
<rect x="729.50" y="523.80" width="16.20" height="27.20" fill="#e4e8f3"/>
<rect x="744.70" y="523.80" width="16.40" height="27.20" fill="#dde2f0"/>
<rect x="760.10" y="523.80" width="16.00" height="27.20" fill="#dde2f0"/>
<rect x="775.10" y="523.80" width="16.00" height="27.20" fill="#dde2f0"/>
<rect x="790.10" y="523.80" width="16.20" height="27.20" fill="#dde2f0"/>
<rect x="805.30" y="523.80" width="15.70" height="27.20" fill="#d9dfee"/>
<rect x="820.00" y="523.80" width="16.00" height="27.20" fill="#d9dfee"/>
<rect x="835.00" y="523.80" width="16.00" height="27.20" fill="#d9dfee"/>
<rect x="850.00" y="523.80" width="16.30" height="27.20" fill="#d9dfee"/>
<rect x="729.50" y="550.00" width="16.20" height="26.50" fill="#e4e8f3"/>
<rect x="744.70" y="550.00" width="16.40" height="26.50" fill="#e4e8f3"/>
<rect x="760.10" y="550.00" width="16.00" height="26.50" fill="#dfe4f1"/>
<rect x="775.10" y="550.00" width="16.00" height="26.50" fill="#dfe4f1"/>
<rect x="790.10" y="550.00" width="16.20" height="26.50" fill="#dfe4f1"/>
<rect x="805.30" y="550.00" width="15.70" height="26.50" fill="#dfe4f1"/>
<rect x="820.00" y="550.00" width="16.00" height="26.50" fill="#dfe4f1"/>
<rect x="835.00" y="550.00" width="16.00" height="26.50" fill="#dfe4f1"/>
<rect x="850.00" y="550.00" width="16.30" height="26.50" fill="#dfe4f1"/>
<rect x="729.50" y="575.50" width="16.20" height="26.50" fill="#e4e8f3"/>
<rect x="744.70" y="575.50" width="16.40" height="26.50" fill="#e4e8f3"/>
<rect x="760.10" y="575.50" width="16.00" height="26.50" fill="#e4e8f3"/>
<rect x="775.10" y="575.50" width="16.00" height="26.50" fill="#e4e8f3"/>
<rect x="790.10" y="575.50" width="16.20" height="26.50" fill="#e4e8f3"/>
<rect x="805.30" y="575.50" width="15.70" height="26.50" fill="#e4e8f3"/>
<rect x="820.00" y="575.50" width="16.00" height="26.50" fill="#e2e6f2"/>
<rect x="835.00" y="575.50" width="16.00" height="26.50" fill="#e2e6f2"/>
<rect x="850.00" y="575.50" width="16.30" height="26.50" fill="#e2e6f2"/>
<rect x="729.50" y="601.00" width="16.20" height="25.40" fill="#e4e8f3"/>
<rect x="744.70" y="601.00" width="16.40" height="25.40" fill="#e4e8f3"/>
<rect x="760.10" y="601.00" width="16.00" height="25.40" fill="#dfe3f0"/>
<rect x="775.10" y="601.00" width="16.00" height="25.40" fill="#dfe3f0"/>
<rect x="790.10" y="601.00" width="16.20" height="25.40" fill="#dfe3f0"/>
<rect x="805.30" y="601.00" width="15.70" height="25.40" fill="#dfe3f0"/>
<rect x="820.00" y="601.00" width="16.00" height="25.40" fill="#dfe3f0"/>
<rect x="835.00" y="601.00" width="16.00" height="25.40" fill="#dfe3f0"/>
<rect x="850.00" y="601.00" width="16.30" height="25.40" fill="#dfe3f0"/>
<rect x="866.3" y="89.7" width="36.9" height="176.8" fill="#fde4da"/>
<text x="0" y="0" font-size="21.5" fill="#c8601e" text-anchor="middle" transform="translate(877.5,178.1) rotate(90)" stroke="#c8601e" stroke-width="0.4">Pyro-</text>
<rect x="866.3" y="266.5" width="36.9" height="180.0" fill="#dce9f7"/>
<text x="0" y="0" font-size="21.5" fill="#2aa0dc" text-anchor="middle" transform="translate(877.5,356.5) rotate(90)" stroke="#2aa0dc" stroke-width="0.4">Hydro-</text>
<rect x="866.3" y="446.5" width="36.9" height="179.9" fill="#d9d9d9"/>
<text x="0" y="0" font-size="21.5" fill="#000" text-anchor="middle" transform="translate(877.5,536.5) rotate(90)" stroke="#000" stroke-width="0.4">Direct-</text>
<rect x="729.5" y="89.7" width="136.8" height="536.7" fill="none" stroke="#1b2b52" stroke-width="3"/>
<rect x="866.3" y="89.7" width="36.9" height="176.8" fill="none" stroke="#1b2b52" stroke-width="3"/>
<rect x="866.3" y="266.5" width="36.9" height="180.0" fill="none" stroke="#1b2b52" stroke-width="3"/>
<rect x="866.3" y="446.5" width="36.9" height="179.9" fill="none" stroke="#1b2b52" stroke-width="3"/>
<text x="640.6" y="651.1" font-size="21.5" text-anchor="start" fill="#000" font-weight="normal"  stroke="#000" stroke-width="0.4">SOH (%) 10 30 50 70 90</text>
<text x="946.1" y="75.8" font-size="21.5" stroke="#000" stroke-width="0.4">Carbon emission (kg CO<tspan font-size="15" dy="3">2</tspan><tspan dy="-3"> eq.·t</tspan><tspan font-size="14" dy="-7">-1</tspan><tspan dy="7">)</tspan></text>
<rect x="992" y="94.5" width="195.6" height="33" fill="url(#gcbar)"/>
<text x="992.9" y="157.7" font-size="21.5" text-anchor="start" fill="#000" font-weight="normal"  stroke="#000" stroke-width="0.4">50</text>
<text x="1158.7" y="157.7" font-size="21.5" text-anchor="start" fill="#000" font-weight="normal"  stroke="#000" stroke-width="0.4">450</text>
<text x="936.4" y="199.5" font-size="30" text-anchor="start" fill="#000" font-weight="bold"  stroke="#000" stroke-width="0.4">c</text>
<line x1="1016.3" y1="235.3" x2="1033.3" y2="235.3" stroke="#d48fbf" stroke-width="3.3" stroke-linecap="round"/>
<text x="1052.0" y="242.0" font-size="21.5" text-anchor="start" fill="#000" font-weight="normal"  stroke="#000" stroke-width="0.4">CCCV, 50% SOC</text>
<line x1="1016.3" y1="260.8" x2="1033.3" y2="260.8" stroke="#5aaee8" stroke-width="3.3" stroke-linecap="round"/>
<text x="1052.0" y="267.7" font-size="21.5" text-anchor="start" fill="#000" font-weight="normal"  stroke="#000" stroke-width="0.4">CCCV, 5% SOC</text>
<line x1="1016.3" y1="287" x2="1033.3" y2="287" stroke="#2ab5b5" stroke-width="3.3" stroke-linecap="round"/>
<text x="1052.0" y="294.4" font-size="21.5" text-anchor="start" fill="#000" font-weight="normal"  stroke="#000" stroke-width="0.4">Pulse, 50% SOC</text>
<line x1="1016.3" y1="313.1" x2="1033.3" y2="313.1" stroke="#a8e07a" stroke-width="3.3" stroke-linecap="round"/>
<text x="1052.0" y="319.2" font-size="21.5" text-anchor="start" fill="#000" font-weight="normal"  stroke="#000" stroke-width="0.4">Pulse, 5% SOC</text>
<line x1="1016.3" y1="339.2" x2="1033.3" y2="339.2" stroke="#e0a030" stroke-width="3.3" stroke-linecap="round"/>
<text x="1052.0" y="344.7" font-size="21.5" text-anchor="start" fill="#000" font-weight="normal"  stroke="#000" stroke-width="0.4">Generation</text>
<rect x="1016.3" y="359" width="22.5" height="14.3" fill="#ebebeb"/>
<text x="1052.0" y="371.4" font-size="21.5" text-anchor="start" fill="#000" font-weight="normal"  stroke="#000" stroke-width="0.4">Training data</text>
<rect x="1018" y="401.5" width="234.29999999999995" height="170.0" fill="#fff"/>
<rect x="1018" y="401.5" width="33" height="170.0" fill="#ececec"/>
<clipPath id="cclip"><rect x="1018" y="401.5" width="234.3" height="170"/></clipPath>
<g clip-path="url(#cclip)">
<line x1="1018" y1="538.2" x2="1252" y2="406.8" stroke="#d48fbf" stroke-width="3"/>
<line x1="1018" y1="540.8" x2="1252" y2="409.9" stroke="#6fb2ea" stroke-width="5.2"/>
<line x1="1018" y1="552.3" x2="1252" y2="419.8" stroke="#2ab5b5" stroke-width="3"/>
<line x1="1018" y1="570.2" x2="1252" y2="439" stroke="#a8e07a" stroke-width="3"/>
<polyline points="1018,556.3 1051,539.2 1252,539.2" fill="none" stroke="#e3a63a" stroke-width="3.3"/>
<rect x="1018" y="401.5" width="33" height="170" fill="#ececec" fill-opacity="0.55"/>
</g>
<line x1="1051" y1="571.5" x2="1051" y2="567.5" stroke="#1b2b52" stroke-width="1.5"/>
<line x1="1084.4" y1="571.5" x2="1084.4" y2="567.5" stroke="#1b2b52" stroke-width="1.5"/>
<line x1="1117.8" y1="571.5" x2="1117.8" y2="567.5" stroke="#1b2b52" stroke-width="1.5"/>
<line x1="1151.2" y1="571.5" x2="1151.2" y2="567.5" stroke="#1b2b52" stroke-width="1.5"/>
<line x1="1184.6" y1="571.5" x2="1184.6" y2="567.5" stroke="#1b2b52" stroke-width="1.5"/>
<line x1="1218" y1="571.5" x2="1218" y2="567.5" stroke="#1b2b52" stroke-width="1.5"/>
<rect x="1018" y="401.5" width="234.29999999999995" height="170.0" fill="none" stroke="#1b2b52" stroke-width="3"/>
<text x="976.6" y="410" font-size="21.5" stroke="#000" stroke-width="0.4">10<tspan dy="-7.2" font-size="14.6">5</tspan></text>
<text x="976.6" y="465" font-size="21.5" stroke="#000" stroke-width="0.4">10<tspan dy="-7.2" font-size="14.6">2</tspan></text>
<text x="976.6" y="521" font-size="21.5" stroke="#000" stroke-width="0.4">10<tspan dy="-7.2" font-size="14.6">-4</tspan></text>
<text x="976.6" y="573" font-size="21.5" stroke="#000" stroke-width="0.4">10<tspan dy="-7.2" font-size="14.6">-1</tspan></text>
<line x1="1018" y1="420" x2="1021" y2="420" stroke="#1b2b52" stroke-width="1.2"/>
<line x1="1018" y1="439.8" x2="1021" y2="439.8" stroke="#1b2b52" stroke-width="1.2"/>
<line x1="1018" y1="458.4" x2="1021" y2="458.4" stroke="#1b2b52" stroke-width="1.2"/>
<line x1="1018" y1="477.5" x2="1021" y2="477.5" stroke="#1b2b52" stroke-width="1.2"/>
<line x1="1018" y1="496" x2="1021" y2="496" stroke="#1b2b52" stroke-width="1.2"/>
<line x1="1018" y1="515.9" x2="1021" y2="515.9" stroke="#1b2b52" stroke-width="1.2"/>
<line x1="1018" y1="534.4" x2="1021" y2="534.4" stroke="#1b2b52" stroke-width="1.2"/>
<line x1="1018" y1="553.6" x2="1021" y2="553.6" stroke="#1b2b52" stroke-width="1.2"/>
<text x="0" y="0" font-size="21.5" text-anchor="middle" transform="translate(964.5,496) rotate(-90)" stroke="#000" stroke-width="0.4">Electricity cost ($)</text>
<text x="0" y="0" font-size="21.5" text-anchor="end" transform="translate(1032.7,596.5) rotate(-45)" stroke="#000" stroke-width="0.4">10<tspan dy="-7.5" font-size="14">-1</tspan></text>
<text x="0" y="0" font-size="21.5" text-anchor="end" transform="translate(1066.1,596.5) rotate(-45)" stroke="#000" stroke-width="0.4">10<tspan dy="-7.5" font-size="14">0</tspan></text>
<text x="0" y="0" font-size="21.5" text-anchor="end" transform="translate(1099.5,596.5) rotate(-45)" stroke="#000" stroke-width="0.4">10<tspan dy="-7.5" font-size="14">1</tspan></text>
<text x="0" y="0" font-size="21.5" text-anchor="end" transform="translate(1132.9,596.5) rotate(-45)" stroke="#000" stroke-width="0.4">10<tspan dy="-7.5" font-size="14">2</tspan></text>
<text x="0" y="0" font-size="21.5" text-anchor="end" transform="translate(1166.3,596.5) rotate(-45)" stroke="#000" stroke-width="0.4">10<tspan dy="-7.5" font-size="14">3</tspan></text>
<text x="0" y="0" font-size="21.5" text-anchor="end" transform="translate(1199.7,596.5) rotate(-45)" stroke="#000" stroke-width="0.4">10<tspan dy="-7.5" font-size="14">4</tspan></text>
<text x="0" y="0" font-size="21.5" text-anchor="end" transform="translate(1233.1,596.5) rotate(-45)" stroke="#000" stroke-width="0.4">10<tspan dy="-7.5" font-size="14">5</tspan></text>
<text x="0" y="0" font-size="21.5" text-anchor="end" transform="translate(1266.5,596.5) rotate(-45)" stroke="#000" stroke-width="0.4">10<tspan dy="-7.5" font-size="14">6</tspan></text>
<text x="1029.4" y="648.5" font-size="21.5" text-anchor="start" fill="#000" font-weight="normal"  stroke="#000" stroke-width="0.4">Retirement scale (tons)</text>
<text x="507.2" y="705.0" font-size="30" text-anchor="start" fill="#000" font-weight="bold"  stroke="#000" stroke-width="0.4">d</text>
<rect x="566.2" y="708.7" width="16.7" height="16" fill="#10857f"/>
<text x="595.7" y="723.5" font-size="21.5" text-anchor="start" fill="#000" font-weight="normal"  stroke="#000" stroke-width="0.4">Electricity</text>
<rect x="566.2" y="734.2" width="16.7" height="16" fill="#d996c0"/>
<text x="595.7" y="748.4" font-size="21.5" text-anchor="start" fill="#000" font-weight="normal"  stroke="#000" stroke-width="0.4">Equipment depreciation</text>
<rect x="566.2" y="760" width="16.7" height="16" fill="#f4c9cb"/>
<text x="595.7" y="776.0" font-size="21.5" text-anchor="start" fill="#000" font-weight="normal"  stroke="#000" stroke-width="0.4">Labor</text>
<path d="M641.30,832.30 A86.3,86.3 0 0 1 705.03,860.41 L690.41,873.76 A66.5,66.5 0 0 0 641.30,852.10 Z" fill="#10857f" stroke="#fff" stroke-width="1.2"/>
<path d="M705.03,860.41 A86.3,86.3 0 0 1 726.65,905.84 L707.07,908.77 A66.5,66.5 0 0 0 690.41,873.76 Z" fill="#d996c0" stroke="#fff" stroke-width="1.2"/>
<path d="M726.65,905.84 A86.3,86.3 0 0 1 590.88,988.64 L602.45,972.57 A66.5,66.5 0 0 0 707.07,908.77 Z" fill="#f4c9cb" stroke="#fff" stroke-width="1.2"/>
<path d="M590.88,988.64 A86.3,86.3 0 0 1 566.79,875.06 L583.88,885.05 A66.5,66.5 0 0 0 602.45,972.57 Z" fill="#96c3df" stroke="#fff" stroke-width="1.2"/>
<path d="M566.79,875.06 A86.3,86.3 0 0 1 641.30,832.30 L641.30,852.10 A66.5,66.5 0 0 0 583.88,885.05 Z" fill="#dac8e6" stroke="#fff" stroke-width="1.2"/>
<path d="M641.30,852.10 A66.5,66.5 0 0 1 669.61,858.43 L661.10,876.53 A46.5,46.5 0 0 0 641.30,872.10 Z" fill="#10857f" stroke="#fff" stroke-width="1.2"/>
<path d="M669.61,858.43 A66.5,66.5 0 0 1 699.63,886.67 L682.09,896.27 A46.5,46.5 0 0 0 661.10,876.53 Z" fill="#d996c0" stroke="#fff" stroke-width="1.2"/>
<path d="M699.63,886.67 A66.5,66.5 0 0 1 612.78,978.67 L621.35,960.61 A46.5,46.5 0 0 0 682.09,896.27 Z" fill="#f4c9cb" stroke="#fff" stroke-width="1.2"/>
<path d="M612.78,978.67 A66.5,66.5 0 0 1 581.74,889.03 L599.65,897.92 A46.5,46.5 0 0 0 621.35,960.61 Z" fill="#96c3df" stroke="#fff" stroke-width="1.2"/>
<path d="M581.74,889.03 A66.5,66.5 0 0 1 641.30,852.10 L641.30,872.10 A46.5,46.5 0 0 0 599.65,897.92 Z" fill="#dac8e6" stroke="#fff" stroke-width="1.2"/>
<path d="M641.30,872.10 A46.5,46.5 0 0 1 659.02,875.61 L652.08,892.44 A28.3,28.3 0 0 0 641.30,890.30 Z" fill="#10857f" stroke="#fff" stroke-width="1.2"/>
<path d="M659.02,875.61 A46.5,46.5 0 0 1 681.32,894.93 L665.66,904.19 A28.3,28.3 0 0 0 652.08,892.44 Z" fill="#d996c0" stroke="#fff" stroke-width="1.2"/>
<path d="M681.32,894.93 A46.5,46.5 0 0 1 621.28,960.57 L629.12,944.14 A28.3,28.3 0 0 0 665.66,904.19 Z" fill="#f4c9cb" stroke="#fff" stroke-width="1.2"/>
<path d="M621.28,960.57 A46.5,46.5 0 0 1 598.95,899.39 L615.53,906.91 A28.3,28.3 0 0 0 629.12,944.14 Z" fill="#96c3df" stroke="#fff" stroke-width="1.2"/>
<path d="M598.95,899.39 A46.5,46.5 0 0 1 641.30,872.10 L641.30,890.30 A28.3,28.3 0 0 0 615.53,906.91 Z" fill="#dac8e6" stroke="#fff" stroke-width="1.2"/>
<g stroke="#000" stroke-width="3">
<line x1="613.6" y1="827.6" x2="648.7" y2="861.9"/>
<line x1="697.1" y1="828.1" x2="662.9" y2="844.9"/>
<line x1="649.8" y1="882" x2="641.5" y2="898.5"/>
</g>
<text x="585.7" y="825.0" font-size="21.5" text-anchor="start" fill="#000" font-weight="normal"  stroke="#000" stroke-width="0.4">7.3%</text>
<text x="675.1" y="825.0" font-size="21.5" text-anchor="start" fill="#000" font-weight="normal"  stroke="#000" stroke-width="0.4">13.3%</text>
<text x="618.4" y="920.7" font-size="21.5" text-anchor="start" fill="#000" font-weight="normal"  stroke="#000" stroke-width="0.4">6.5%</text>
<g fill="none" stroke="#555" stroke-width="2.6">
<polyline points="713.4,874.6 787.2,874.6 884.3,759.4 919,759.4"/>
<polyline points="704.5,920.7 782.6,920.7 881.8,801.9 919,801.9"/>
<polyline points="644.3,961.1 783.6,961.1 882.9,843.4 919,843.4"/>
</g>
<text x="728.3" y="895.9" font-size="21.5" text-anchor="start" fill="#000" font-weight="normal"  stroke="#000" stroke-width="0.4">CCCV</text>
<text x="731.1" y="940.9" font-size="21.5" text-anchor="start" fill="#000" font-weight="normal"  stroke="#000" stroke-width="0.4">Pulse</text>
<text x="731.1" y="983.5" font-size="21.5" text-anchor="start" fill="#000" font-weight="normal"  stroke="#000" stroke-width="0.4">Generation</text>
<rect x="941.6" y="720" width="269.5" height="147.4" fill="#fff"/>
<rect x="943.6" y="749.0" width="27.6" height="15.7" fill="#10857f"/>
<rect x="972.7" y="749.0" width="19.5" height="15.7" fill="#d996c0"/>
<rect x="993.0" y="749.0" width="80.0" height="15.7" fill="#f4c9cb"/>
<rect x="1073.9" y="749.0" width="50.0" height="15.7" fill="#96c3df"/>
<rect x="1124.8" y="749.0" width="34.9" height="15.7" fill="#dac8e6"/>
<rect x="943.6" y="793.2" width="13.7" height="16.0" fill="#10857f"/>
<rect x="958.2" y="793.2" width="19.7" height="16.0" fill="#d996c0"/>
<rect x="979.1" y="793.2" width="79.4" height="16.0" fill="#f4c9cb"/>
<rect x="1059.3" y="793.2" width="50.1" height="16.0" fill="#96c3df"/>
<rect x="1110.5" y="793.2" width="35.2" height="16.0" fill="#dac8e6"/>
<rect x="943.6" y="837.4" width="11.6" height="16.0" fill="#10857f"/>
<rect x="956.7" y="837.4" width="19.5" height="16.0" fill="#d996c0"/>
<rect x="977.3" y="837.4" width="79.7" height="16.0" fill="#f4c9cb"/>
<rect x="1057.9" y="837.4" width="50.0" height="16.0" fill="#96c3df"/>
<rect x="1108.8" y="837.4" width="34.9" height="16.0" fill="#dac8e6"/>
<rect x="943" y="721.5" width="266.6" height="144.4" fill="none" stroke="#1b2b52" stroke-width="3"/>
<text x="944.5" y="745.8" font-size="21.5" text-anchor="start" fill="#000" font-weight="normal"  stroke="#000" stroke-width="0.4">87</text>
<text x="944.5" y="790.3" font-size="21.5" text-anchor="start" fill="#000" font-weight="normal"  stroke="#000" stroke-width="0.4">44</text>
<text x="944.5" y="834.8" font-size="21.5" text-anchor="start" fill="#000" font-weight="normal"  stroke="#000" stroke-width="0.4">39</text>
<text x="941.6" y="889.2" font-size="21.5" text-anchor="middle" fill="#000" font-weight="normal"  stroke="#000" stroke-width="0.4">0</text>
<text x="1008.2" y="889.2" font-size="21.5" text-anchor="middle" fill="#000" font-weight="normal"  stroke="#000" stroke-width="0.4">200</text>
<text x="1074.5" y="889.2" font-size="21.5" text-anchor="middle" fill="#000" font-weight="normal"  stroke="#000" stroke-width="0.4">400</text>
<text x="1141.3" y="889.2" font-size="21.5" text-anchor="middle" fill="#000" font-weight="normal"  stroke="#000" stroke-width="0.4">600</text>
<text x="1208.2" y="889.2" font-size="21.5" text-anchor="middle" fill="#000" font-weight="normal"  stroke="#000" stroke-width="0.4">800</text>
<text x="979.4" y="913.3" font-size="21.5" text-anchor="start" fill="#000" font-weight="normal"  stroke="#000" stroke-width="0.4">Pretreatment cost ($)</text>
<rect x="945" y="953.2" width="16" height="16.5" fill="#96c3df"/>
<text x="971.2" y="968.6" font-size="21.5" text-anchor="start" fill="#000" font-weight="normal"  stroke="#000" stroke-width="0.4">Disassemble</text>
<rect x="945" y="979.3" width="16" height="16" fill="#dac8e6"/>
<text x="971.2" y="992.4" font-size="21.5" text-anchor="start" fill="#000" font-weight="normal"  stroke="#000" stroke-width="0.4">Sewage treatment</text>
<text x="508.5" y="1049.8" font-size="30" text-anchor="start" fill="#000" font-weight="bold"  stroke="#000" stroke-width="0.4">e</text>
<rect x="621.0" y="1063.3" width="15.7" height="8.0" fill="#ecc46c"/>
<rect x="621.0" y="1074.0" width="20.8" height="7.9" fill="#96c3df"/>
<rect x="621.0" y="1084.3" width="35.8" height="7.9" fill="#b07bdc"/>
<text x="613" y="1085.0" font-size="21.5" text-anchor="end" stroke="#000" stroke-width="0.4">10<tspan dy="-8.2" font-size="14.6">0</tspan></text>
<rect x="621.0" y="1103.4" width="20.8" height="8.0" fill="#ecc46c"/>
<rect x="621.0" y="1114.1" width="42.5" height="7.9" fill="#96c3df"/>
<rect x="621.0" y="1124.4" width="57.1" height="7.9" fill="#b07bdc"/>
<text x="613" y="1125.1" font-size="21.5" text-anchor="end" stroke="#000" stroke-width="0.4">10<tspan dy="-8.2" font-size="14.6">1</tspan></text>
<rect x="621.0" y="1143.5" width="36.6" height="8.0" fill="#ecc46c"/>
<rect x="621.0" y="1154.2" width="63.4" height="7.9" fill="#96c3df"/>
<rect x="621.0" y="1164.5" width="78.0" height="7.9" fill="#b07bdc"/>
<text x="613" y="1165.2" font-size="21.5" text-anchor="end" stroke="#000" stroke-width="0.4">10<tspan dy="-8.2" font-size="14.6">2</tspan></text>
<rect x="621.0" y="1183.6" width="57.1" height="8.0" fill="#ecc46c"/>
<rect x="621.0" y="1194.3" width="85.1" height="7.9" fill="#96c3df"/>
<rect x="621.0" y="1204.6" width="99.6" height="7.9" fill="#b07bdc"/>
<text x="613" y="1205.3" font-size="21.5" text-anchor="end" stroke="#000" stroke-width="0.4">10<tspan dy="-8.2" font-size="14.6">3</tspan></text>
<rect x="621.0" y="1223.7" width="78.0" height="8.0" fill="#ecc46c"/>
<rect x="621.0" y="1234.4" width="106.3" height="7.9" fill="#96c3df"/>
<rect x="621.0" y="1244.7" width="120.5" height="7.9" fill="#b07bdc"/>
<text x="613" y="1245.4" font-size="21.5" text-anchor="end" stroke="#000" stroke-width="0.4">10<tspan dy="-8.2" font-size="14.6">4</tspan></text>
<rect x="621.0" y="1263.8" width="99.6" height="8.0" fill="#ecc46c"/>
<rect x="621.0" y="1274.5" width="127.6" height="7.9" fill="#96c3df"/>
<rect x="621.0" y="1284.8" width="142.2" height="7.9" fill="#b07bdc"/>
<text x="613" y="1285.5" font-size="21.5" text-anchor="end" stroke="#000" stroke-width="0.4">10<tspan dy="-8.2" font-size="14.6">5</tspan></text>
<rect x="621.0" y="1303.9" width="120.5" height="8.0" fill="#ecc46c"/>
<rect x="621.0" y="1314.6" width="148.9" height="7.9" fill="#96c3df"/>
<rect x="621.0" y="1324.9" width="163.5" height="7.9" fill="#b07bdc"/>
<text x="613" y="1325.6" font-size="21.5" text-anchor="end" stroke="#000" stroke-width="0.4">10<tspan dy="-8.2" font-size="14.6">6</tspan></text>
<rect x="621.0" y="1344.0" width="142.2" height="8.0" fill="#ecc46c"/>
<rect x="621.0" y="1354.7" width="170.2" height="7.9" fill="#96c3df"/>
<rect x="621.0" y="1365.0" width="184.7" height="7.9" fill="#b07bdc"/>
<text x="613" y="1365.7" font-size="21.5" text-anchor="end" stroke="#000" stroke-width="0.4">10<tspan dy="-8.2" font-size="14.6">7</tspan></text>
<rect x="621.0" y="1384.1" width="163.5" height="8.0" fill="#ecc46c"/>
<rect x="621.0" y="1394.8" width="191.5" height="7.9" fill="#96c3df"/>
<rect x="621.0" y="1405.1" width="206.0" height="7.9" fill="#b07bdc"/>
<text x="613" y="1405.8" font-size="21.5" text-anchor="end" stroke="#000" stroke-width="0.4">10<tspan dy="-8.2" font-size="14.6">8</tspan></text>
<rect x="621" y="1057" width="212.5" height="359.5" fill="none" stroke="#1b2b52" stroke-width="3"/>
<rect x="705.7" y="1068.5" width="16.1" height="15.5" fill="#b07bdc"/>
<text x="724.6" y="1084.2" font-size="21.5" text-anchor="start" fill="#000" font-weight="normal"  stroke="#000" stroke-width="0.4">CCCV</text>
<rect x="705.7" y="1094.9" width="16.1" height="15.5" fill="#96c3df"/>
<text x="724.6" y="1108.6" font-size="21.5" text-anchor="start" fill="#000" font-weight="normal"  stroke="#000" stroke-width="0.4">Pulse</text>
<rect x="705.7" y="1120.5" width="16.1" height="15.5" fill="#ecc46c"/>
<text x="724.6" y="1137.0" font-size="21.5" text-anchor="start" fill="#000" font-weight="normal"  stroke="#000" stroke-width="0.4">Generation</text>
<text x="598.5" y="1445.5" font-size="21.5" stroke="#000" stroke-width="0.4">10<tspan dy="-8.2" font-size="14.6">0</tspan></text>
<text x="643.0" y="1445.5" font-size="21.5" stroke="#000" stroke-width="0.4">10<tspan dy="-8.2" font-size="14.6">2</tspan></text>
<text x="687.5" y="1445.5" font-size="21.5" stroke="#000" stroke-width="0.4">10<tspan dy="-8.2" font-size="14.6">4</tspan></text>
<text x="732.0" y="1445.5" font-size="21.5" stroke="#000" stroke-width="0.4">10<tspan dy="-8.2" font-size="14.6">6</tspan></text>
<text x="776.5" y="1445.5" font-size="21.5" stroke="#000" stroke-width="0.4">10<tspan dy="-8.2" font-size="14.6">8</tspan></text>
<text x="821.0" y="1445.5" font-size="21.5" stroke="#000" stroke-width="0.4">10<tspan dy="-8.2" font-size="14.6">10</tspan></text>
<text x="632.0" y="1472.3" font-size="21.5" text-anchor="start" fill="#000" font-weight="normal"  stroke="#000" stroke-width="0.4">Pretreatment cost ($)</text>
<text x="0" y="0" font-size="21.5" text-anchor="middle" transform="translate(574,1240) rotate(-90)" stroke="#000" stroke-width="0.4">Retirement scale (tons)</text>
<line x1="821.1" y1="1397" x2="846" y2="1397" stroke="#000" stroke-width="2.5"/>
<text x="850.7" y="1405.3" font-size="21.5" text-anchor="start" fill="#000" font-weight="normal"  stroke="#000" stroke-width="0.4">2030 scenario</text>
<text x="948.2" y="1051.5" font-size="30" text-anchor="start" fill="#000" font-weight="bold"  stroke="#000" stroke-width="0.4">f</text>
<rect x="1041.4" y="1052.9" width="185.4" height="362" fill="none" stroke="#1b2b52" stroke-width="3"/>
<text x="1050.6" y="1079.7" font-size="21.5" text-anchor="start" fill="#000" font-weight="normal"  stroke="#000" stroke-width="0.4">@ 2030 scenario</text>
<text x="1046.2" y="1129.9" font-size="21.5" text-anchor="start" fill="#000" font-weight="normal"  stroke="#000" stroke-width="0.4">CCCV</text>
<rect x="1042.5" y="1136.2" width="70.9" height="43.0" fill="#b07bdc"/>
<text x="1127.8" y="1163.8" font-size="21.5" stroke="#000" stroke-width="0.4">5.35×10<tspan dy="-8.2" font-size="14.6">9</tspan></text>
<text x="1046.2" y="1244.6" font-size="21.5" text-anchor="start" fill="#000" font-weight="normal"  stroke="#000" stroke-width="0.4">Pulse</text>
<rect x="1042.5" y="1249.3" width="35.7" height="43.0" fill="#96c3df"/>
<text x="1093" y="1279.1" font-size="21.5" stroke="#000" stroke-width="0.4">1.12×10<tspan dy="-8.2" font-size="14.6">9</tspan></text>
<text x="1046.2" y="1351.3" font-size="21.5" text-anchor="start" fill="#000" font-weight="normal"  stroke="#000" stroke-width="0.4">Generation</text>
<rect x="1042.5" y="1356.7" width="17.5" height="42.7" fill="#ecc46c"/>
<text x="1075" y="1386.8" font-size="21.5" stroke="#000" stroke-width="0.4">5.29×10<tspan dy="-8.2" font-size="14.6">7</tspan></text>
<text x="0" y="0" font-size="21.5" text-anchor="middle" transform="translate(1007,1235) rotate(-90)" stroke="#000" stroke-width="0.4">Pretreatment methodologies</text>
<text x="1037.4" y="1472.3" font-size="21.5" text-anchor="start" fill="#000" font-weight="normal"  stroke="#000" stroke-width="0.4">Pretreatment cost ($)</text>
</svg></body></html>
